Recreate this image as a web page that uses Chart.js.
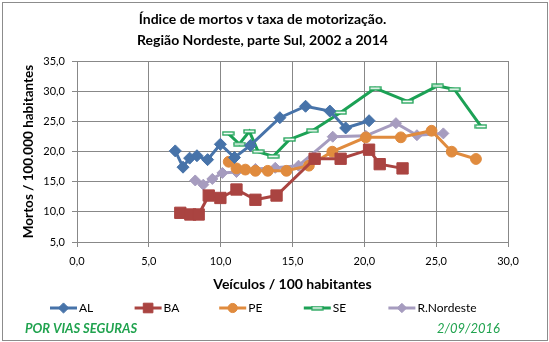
<!DOCTYPE html>
<html>
<head>
<meta charset="utf-8">
<script src="https://cdn.jsdelivr.net/npm/chart.js@4.4.1/dist/chart.umd.min.js"></script>
<style>
  html, body { margin: 0; padding: 0; background: #fff; }
  #grafico { display: block; }
</style>
</head>
<body>
<canvas id="grafico" width="549" height="342"></canvas>
<script>
// veículos por 100 habitantes (x) e mortos por 100.000 habitantes (y), 2002 a 2014
const alX = [6.84, 7.38, 7.84, 8.35, 9.09, 9.98, 10.96, 12.07, 14.12, 15.91, 17.6, 18.7, 20.33];
const alY = [20.1, 17.4, 18.9, 19.3, 18.65, 21.2, 19.0, 21.0, 25.6, 27.5, 26.7, 23.9, 25.1];

const baX = [7.19, 7.89, 8.47, 9.17, 9.98, 11.1, 12.42, 13.89, 16.54, 18.35, 20.33, 21.07, 22.66];
const baY = [9.84, 9.56, 9.56, 12.7, 12.3, 13.7, 12.0, 12.7, 18.8, 18.8, 20.3, 17.9, 17.2];

const peX = [10.56, 11.1, 11.72, 12.42, 13.28, 14.58, 16.14, 17.77, 20.1, 22.54, 24.68, 26.08, 27.77];
const peY = [18.3, 17.2, 17.0, 16.8, 16.8, 16.8, 17.65, 19.97, 22.35, 22.35, 23.44, 19.97, 18.76];

const seX = [10.52, 11.3, 12.0, 12.61, 13.66, 14.8, 16.38, 18.35, 20.75, 23.0, 25.1, 26.26, 28.12];
const seY = [23.0, 21.24, 23.34, 19.97, 19.2, 22.0, 23.44, 26.48, 30.49, 28.3, 30.87, 30.32, 24.16];

const neX = [8.23, 8.79, 9.42, 10.12, 11.1, 12.42, 13.8, 15.42, 17.8, 20.1, 22.2, 23.66, 25.5];
const neY = [15.2, 14.5, 15.45, 16.45, 16.6, 17.1, 17.3, 17.65, 22.45, 22.6, 24.7, 22.7, 23.0];

const xTicks = [0, 5, 10, 15, 20, 25, 30];
const yTicks = [5, 10, 15, 20, 25, 30, 35];

const FONTE = 'Lato, "Liberation Sans", sans-serif';
const GRADE = '#888888';

function pontos(xs, ys) {
  return xs.map((x, i) => ({ x: x, y: ys[i] }));
}

function virgula(v) {
  return v.toFixed(1).replace('.', ',');
}

// marcador do SE: traço branco com borda verde
function marcadorTraco(cor) {
  const c = document.createElement('canvas');
  c.width = 13;
  c.height = 5;
  const g = c.getContext('2d');
  g.fillStyle = '#ffffff';
  g.strokeStyle = cor;
  g.lineWidth = 1.3;
  g.fillRect(1, 1, 11, 3);
  g.strokeRect(1, 1, 11, 3);
  return c;
}

function serie(nome, xs, ys, cor, estilo, raio) {
  return {
    label: nome,
    data: pontos(xs, ys),
    showLine: true,
    borderColor: cor,
    backgroundColor: cor,
    borderWidth: 3,
    pointStyle: estilo,
    pointRadius: raio,
    pointHoverRadius: raio,
    pointBorderWidth: 1,
    pointBackgroundColor: cor,
    pointBorderColor: cor
  };
}

const datasets = [
  serie('AL', alX, alY, '#4773a9', 'rectRot', 6),
  serie('BA', baX, baY, '#aa4441', 'rect', 8),
  serie('PE', peX, peY, '#e08b3e', 'circle', 5.4),
  serie('SE', seX, seY, '#1ca155', marcadorTraco('#1ca155'), 5),
  serie('R.Nordeste', neX, neY, '#a69cbf', 'rectRot', 5.5)
];

// moldura, legenda com linha + marcador e rodapé
const extras = {
  id: 'extras',
  beforeDraw(chart) {
    const ctx = chart.ctx;
    ctx.save();
    ctx.fillStyle = '#ffffff';
    ctx.fillRect(0, 0, chart.width, chart.height);
    ctx.strokeStyle = '#8c8c8c';
    ctx.lineWidth = 1;
    ctx.strokeRect(2.5, 2.5, chart.width - 4, chart.height - 4);
    ctx.restore();
  },
  afterDraw(chart) {
    const ctx = chart.ctx;
    const y = 308;
    ctx.save();
    chart.data.datasets.forEach((ds, i) => {
      const x0 = 50 + i * 84.6;
      ctx.strokeStyle = ds.borderColor;
      ctx.lineWidth = 3;
      ctx.beginPath();
      ctx.moveTo(x0, y);
      ctx.lineTo(x0 + 27, y);
      ctx.stroke();
      ctx.fillStyle = ds.pointBackgroundColor;
      ctx.strokeStyle = ds.pointBorderColor;
      ctx.lineWidth = 1;
      Chart.helpers.drawPoint(ctx, {
        pointStyle: ds.pointStyle,
        rotation: 0,
        radius: ds.pointRadius * 0.85,
        borderWidth: 1
      }, x0 + 13.5, y);
      ctx.fillStyle = '#000000';
      ctx.font = '12px ' + FONTE;
      ctx.textAlign = 'left';
      ctx.textBaseline = 'middle';
      ctx.fillText(ds.label, x0 + 29, y);
    });

    ctx.fillStyle = '#21a34f';
    ctx.textBaseline = 'middle';
    ctx.font = 'italic bold 13px ' + FONTE;
    ctx.textAlign = 'left';
    ctx.fillText('POR VIAS SEGURAS', 25, 329);
    ctx.font = 'italic 13px ' + FONTE;
    ctx.textAlign = 'right';
    ctx.fillText('2/09/2016', 500, 329);
    ctx.restore();
  }
};

new Chart(document.getElementById('grafico'), {
  type: 'scatter',
  data: { datasets: datasets },
  plugins: [extras],
  options: {
    responsive: false,
    animation: false,
    layout: { padding: { left: 17, right: 41, top: 0, bottom: 45 } },
    plugins: {
      legend: { display: false },
      tooltip: { enabled: false },
      title: {
        display: true,
        text: ['Índice de mortos v taxa de motorização.', 'Região Nordeste, parte Sul, 2002 a 2014'],
        color: '#000000',
        font: { family: FONTE, size: 14, weight: 'bold', lineHeight: 1.5 },
        padding: { top: 9, bottom: 10 }
      }
    },
    scales: {
      x: {
        type: 'linear',
        min: 0,
        max: 30,
        afterBuildTicks: s => { s.ticks = xTicks.map(v => ({ value: v })); },
        grid: { color: GRADE, tickColor: GRADE, tickLength: 5 },
        border: { color: GRADE },
        ticks: {
          color: '#000000',
          padding: 8,
          font: { family: FONTE, size: 11 },
          callback: v => virgula(v)
        },
        title: {
          display: true,
          text: 'Veículos / 100 habitantes',
          color: '#000000',
          font: { family: FONTE, size: 14, weight: 'bold' },
          padding: { top: 0, bottom: 4 }
        }
      },
      y: {
        type: 'linear',
        min: 5,
        max: 35,
        afterBuildTicks: s => { s.ticks = yTicks.map(v => ({ value: v })); },
        afterFit: s => { s.width = 60; },
        grid: { color: GRADE, tickColor: GRADE, tickLength: 5 },
        border: { color: GRADE },
        ticks: {
          color: '#000000',
          padding: 7,
          font: { family: FONTE, size: 11 },
          callback: v => virgula(v)
        },
        title: {
          display: true,
          text: 'Mortos / 100.000 habitantes',
          color: '#000000',
          font: { family: FONTE, size: 13.5, weight: 'bold' },
          padding: { top: 4, bottom: 4 }
        }
      }
    }
  }
});
</script>
</body>
</html>
